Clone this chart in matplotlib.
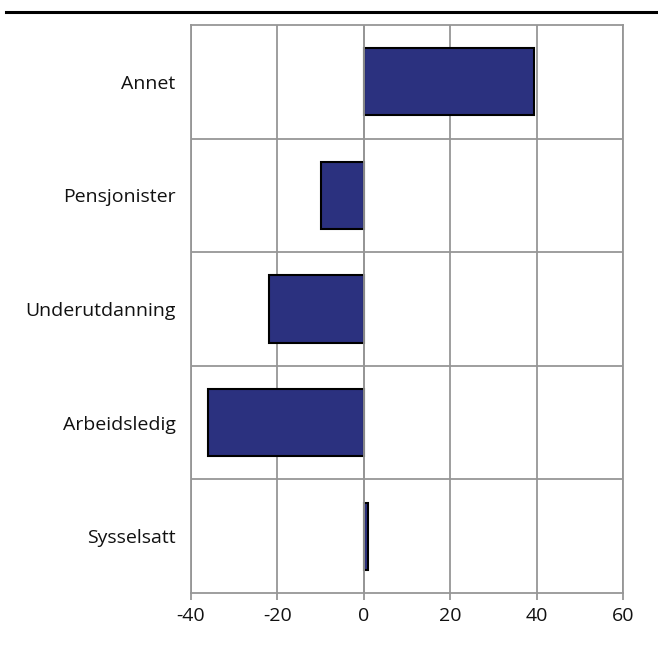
import matplotlib
matplotlib.use("Agg")
import matplotlib.pyplot as plt
from matplotlib.lines import Line2D

categories = ["Sysselsatt", "Arbeidsledig", "Underutdanning", "Pensjonister", "Annet"]
values = [1.0, -36.0, -22.0, -10.0, 39.4]
x_ticks = [-40, -20, 0, 20, 40, 60]

plt.rcParams['font.family'] = ['Open Sans', 'DejaVu Sans']

grid_color = "#969696"
bar_color = "#2B317F"

fig = plt.figure(figsize=(6.58, 6.5), dpi=100)
ax = fig.add_axes([0.2903, 0.0877, 0.6565, 0.8738])

pos = list(range(len(categories)))
ax.barh(pos, values, height=0.59, color=bar_color, edgecolor="black",
        linewidth=1.5, zorder=2)

ax.set_xlim(-40, 60)
ax.set_ylim(-0.5, len(categories) - 0.5)
ax.set_xticks(x_ticks)
ax.set_xticklabels([str(t) for t in x_ticks], fontsize=14)
ax.set_yticks(pos)
ax.set_yticklabels(categories, fontsize=14)
ax.set_yticks([p + 0.5 for p in pos[:-1]], minor=True)

ax.grid(axis="x", which="major", color=grid_color, linewidth=1.3, zorder=3)
ax.grid(axis="y", which="minor", color=grid_color, linewidth=1.3, zorder=1)
ax.axvline(0, color=grid_color, linewidth=1.3, zorder=3)

for side in ["left", "right", "top", "bottom"]:
    ax.spines[side].set_color(grid_color)
    ax.spines[side].set_linewidth(1.3)

ax.tick_params(axis="x", which="major", length=5, width=1.3, color=grid_color,
               pad=5, labelcolor="#111111")
ax.tick_params(axis="y", which="both", length=0, pad=11, labelcolor="#111111")

# black rule below the (cropped) title
fig.add_artist(Line2D([0.009, 1.0], [1 - 12 / 650, 1 - 12 / 650],
                      color="black", linewidth=2.2, transform=fig.transFigure))

fig.savefig("out.png", dpi=100)
